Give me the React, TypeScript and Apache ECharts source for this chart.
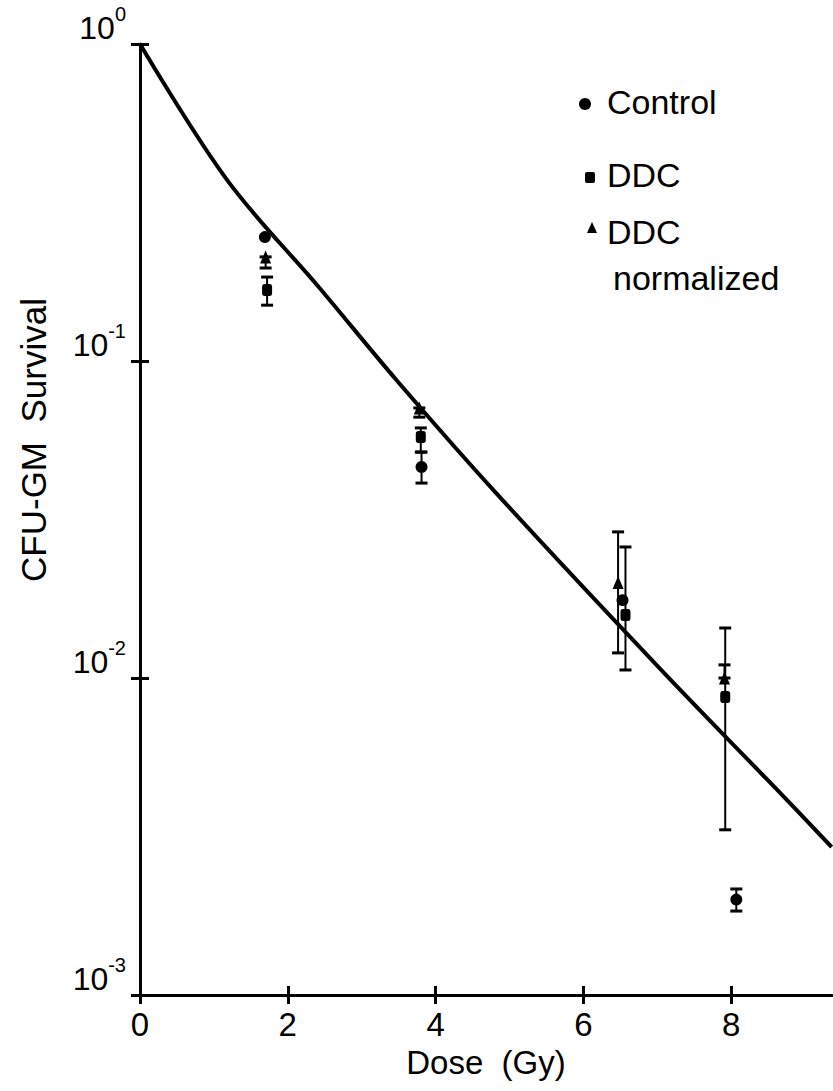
import React, { useEffect, useRef } from "react";
import * as echarts from "echarts";

const FONT = '"Liberation Sans", Arial, sans-serif';

// x-axis ticks (Gy) and y-axis decades
const doseTicks = [0, 2, 4, 6, 8];
const survivalTicks = [0.001, 0.01, 0.1, 1];

// fitted survival curve
const fitDose = [0, 1.18, 2.43, 3.47, 4.82, 7.03, 8.65, 9.36];
const fitSurvival = [1, 0.372, 0.17, 0.0871, 0.0383, 0.01075, 0.00437, 0.00293];

// Control
const controlDose = [1.69, 3.81, 6.53, 8.07];
const controlSurvival = [0.246, 0.0463, 0.0176, 0.002];
const controlErr = [
  [3.81, 0.0412, 0.0516],
  [8.07, 0.00184, 0.00216],
];

// DDC
const ddcDose = [1.72, 3.8, 6.57, 7.92];
const ddcSurvival = [0.1675, 0.0576, 0.0158, 0.00871];
const ddcErr = [
  [1.72, 0.15, 0.184],
  [3.8, 0.0516, 0.0615],
  [6.57, 0.0106, 0.0259],
  [7.92, 0.00332, 0.01438],
];

// DDC normalized
const normDose = [1.7, 3.78, 6.47, 7.91];
const normSurvival = [0.213, 0.0711, 0.02, 0.01];
const normErr = [
  [1.7, 0.1965, 0.213],
  [3.78, 0.0665, 0.0711],
  [6.47, 0.012, 0.0289],
  [7.91, 0.01, 0.011],
];

const zip = (a: number[], b: number[]) => a.map((v, i) => [v, b[i]]);

const errRender = (params: any, api: any) => {
  const x = api.value(0);
  const lo = api.value(1);
  const hi = api.value(2);
  const p1 = api.coord([x, lo]);
  const p2 = api.coord([x, hi]);
  const w = 6;
  const st = { stroke: "#000", lineWidth: 2 };
  const cap = { stroke: "#000", lineWidth: 3 };
  return {
    type: "group",
    children: [
      { type: "line", shape: { x1: p1[0], y1: p1[1], x2: p2[0], y2: p2[1] }, style: st },
      { type: "line", shape: { x1: p1[0] - w, y1: p1[1], x2: p1[0] + w, y2: p1[1] }, style: cap },
      { type: "line", shape: { x1: p2[0] - w, y1: p2[1], x2: p2[0] + w, y2: p2[1] }, style: cap },
    ],
  };
};

const errSeries = (data: number[][]) => ({
  type: "custom",
  renderItem: errRender,
  data,
  encode: { x: 0, y: [1, 2] },
  z: 3,
  silent: true,
});

const xMax = 9.365;

export default function App() {
  const ref = useRef<HTMLDivElement>(null);
  useEffect(() => {
    const chart = echarts.init(ref.current!, null, { renderer: "svg" });
    const axisLineStyle = { color: "#000", width: 3 };
    const markerStyle = { color: "#000", opacity: 1 };
    const option: any = {
      animation: false,
      backgroundColor: "#fff",
      grid: { left: 140, top: 44, right: 1, bottom: 96, containLabel: false },
      xAxis: [
        {
          type: "value",
          position: "bottom",
          min: 0,
          max: xMax,
          axisLine: { onZero: false, lineStyle: axisLineStyle },
          axisTick: { customValues: doseTicks, length: 9, lineStyle: { color: "#000", width: 3 } },
          axisLabel: {
            customValues: doseTicks,
            color: "#000",
            fontFamily: FONT,
            fontSize: 33,
            margin: 13,
          },
          splitLine: { show: false },
          name: "Dose  (Gy)",
          nameLocation: "middle",
          nameGap: 45,
          nameTextStyle: { color: "#000", fontFamily: FONT, fontSize: 33 },
        },
        {
          type: "value",
          position: "bottom",
          min: 0,
          max: xMax,
          axisLine: { show: false, onZero: false },
          axisTick: { inside: true, customValues: doseTicks, length: 9, lineStyle: { color: "#000", width: 3 } },
          axisLabel: { show: false },
          splitLine: { show: false },
        },
      ],
      yAxis: [
        {
          type: "log",
          logBase: 10,
          position: "left",
          min: survivalTicks[0],
          max: survivalTicks[survivalTicks.length - 1],
          axisLine: { onZero: false, lineStyle: axisLineStyle },
          axisTick: { length: 9, lineStyle: { color: "#000", width: 3 } },
          minorTick: { show: false },
          splitLine: { show: false },
          axisLabel: {
            color: "#000",
            margin: 14,
            verticalAlign: "bottom",
            formatter: (v: number) => `{p| }{b|10}{s|${Math.round(Math.log10(v))}}`,
            rich: {
              p: { fontSize: 1, lineHeight: 40, fontFamily: FONT },
              b: { fontSize: 32, lineHeight: 22, verticalAlign: "bottom", fontFamily: FONT, color: "#000" },
              s: { fontSize: 20, lineHeight: 26, verticalAlign: "top", fontFamily: FONT, color: "#000" },
            },
          },
        },
        {
          type: "log",
          logBase: 10,
          position: "left",
          min: survivalTicks[0],
          max: survivalTicks[survivalTicks.length - 1],
          axisLine: { show: false, onZero: false },
          axisTick: { inside: true, length: 9, lineStyle: { color: "#000", width: 3 } },
          axisLabel: { show: false },
          splitLine: { show: false },
        },
      ],
      graphic: [
        {
          type: "text",
          x: 33,
          y: 440,
          rotation: Math.PI / 2,
          style: {
            text: "CFU-GM  Survival",
            font: `35px ${FONT}`,
            fill: "#000",
            align: "center",
            verticalAlign: "middle",
          },
        },
        { type: "circle", shape: { cx: 585, cy: 104, r: 6 }, style: { fill: "#000" } },
        { type: "text", x: 607, y: 102, style: { text: "Control", font: `34px ${FONT}`, fill: "#000", verticalAlign: "middle" } },
        { type: "rect", shape: { x: 585, y: 172, width: 10, height: 11, r: 2 }, style: { fill: "#000" } },
        { type: "text", x: 607, y: 175, style: { text: "DDC", font: `34px ${FONT}`, fill: "#000", verticalAlign: "middle" } },
        { type: "polygon", shape: { points: [[592, 222], [597, 233], [587, 233]] }, style: { fill: "#000" } },
        { type: "text", x: 607, y: 232, style: { text: "DDC", font: `34px ${FONT}`, fill: "#000", verticalAlign: "middle" } },
        { type: "text", x: 613, y: 278, style: { text: "normalized", font: `34px ${FONT}`, fill: "#000", verticalAlign: "middle" } },
      ],
      series: [
        {
          type: "line",
          data: zip(fitDose, fitSurvival),
          showSymbol: false,
          smooth: 0.35,
          lineStyle: { color: "#000", width: 4 },
          z: 2,
          silent: true,
        },
        errSeries(controlErr),
        errSeries(ddcErr),
        errSeries(normErr),
        {
          type: "scatter",
          data: zip(controlDose, controlSurvival),
          symbol: "circle",
          symbolSize: 12,
          itemStyle: markerStyle,
          z: 5,
        },
        {
          type: "scatter",
          data: zip(ddcDose, ddcSurvival),
          symbol: "roundRect",
          symbolSize: [10, 12],
          itemStyle: markerStyle,
          z: 5,
        },
        {
          type: "scatter",
          data: zip(normDose, normSurvival),
          symbol: "triangle",
          symbolSize: [11, 13],
          itemStyle: markerStyle,
          z: 5,
        },
      ],
    };
    chart.setOption(option);
    return () => chart.dispose();
  }, []);
  return (
    <div
      ref={ref}
      style={{ position: "fixed", left: 0, top: 0, width: 833, height: 1091, background: "#fff" }}
    />
  );
}
